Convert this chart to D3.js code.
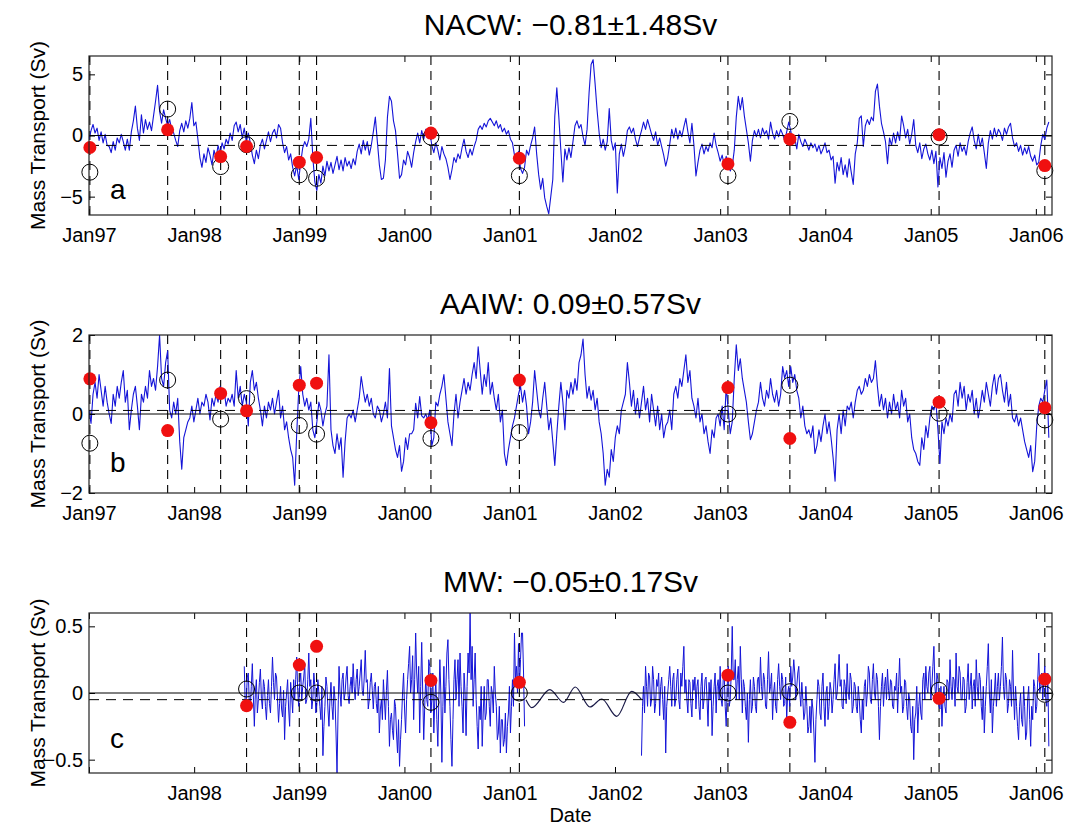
<!DOCTYPE html>
<html>
<head>
<meta charset="utf-8">
<script src="https://cdn.jsdelivr.net/npm/d3@7"></script>
<style>
  body { margin: 0; background: #fff; }
  svg { display: block; }
  text { font-family: "Liberation Sans", Arial, Helvetica, sans-serif; fill: #000; }
</style>
</head>
<body>
<svg id="chart" width="1068" height="826"></svg>
<script>
// ---- data: transports (Sv); time counted from 1 Jan 1997 ----
const seriesStart = "1997-01-01";
const stepDays = 7;      // NACW and AAIW: weekly samples
const mwStepDays = 3.5;  // MW: twice-weekly samples

const nacw = [
  -0.3, 0.4, 0.9, 0.2, 0.6, -0.4, 0.3, -0.6, 0.1, -0.8,
  -0.9, -1.4, -0.5, -1.2, -0.2, -0.6, 0.1, -0.5, -1.2, -0.3,
  -1.2, 0.3, 1.2, 2.4, 0.6, -0.4, 1.7, 0.2, 1.3, 0.5,
  1.1, 0.4, 1.6, 2.8, 4.1, 2.0, 1.0, 2.1, 1.4, 0.8,
  1.3, 0.5, 0.2, -0.4, -0.9, 0.4, 1.0, 0.3, 1.2, 0.6,
  1.4, 2.7, 0.8, 1.1, -0.3, -1.8, -2.6, -1.5, -2.2, -1.0,
  -1.6, -2.4, -1.2, -1.9, -0.8, -1.5, -0.6, -1.1, -0.3, -0.7,
  0.2, -0.4, 0.8, 1.1, 0.3, 0.9, -0.2, 0.6, -0.5, 0.2,
  -0.6, -1.6, -2.3, -1.2, -1.9, -0.8, -0.3, -1.1, -0.4, 0.3,
  -0.5, 0.2, 0.5, -0.2, 0.9, 0.6, -0.6, -1.4, -0.9, -2.0,
  -1.5, -2.6, -3.3, -2.4, -3.6, -2.2, -1.0, -0.5, -0.9, -0.3,
  1.4, -1.8, -3.8, -4.5, -3.2, -3.9, -2.5, -3.3, -2.1, -2.9,
  -2.2, -3.1, -2.4, -1.7, -2.8, -2.0, -2.9, -1.8, -2.5, -2.1,
  -2.7, -1.9, -2.4, -1.3, -0.7, -1.5, -0.4, -1.2, -0.5, -1.6,
  -0.8, 0.3, 1.5, -0.5, -2.4, -3.6, -3.5, -2.0, 1.5, 3.2,
  2.8, 1.2, 0.4, -1.5, -3.5, -3.2, -2.0, -2.4, -1.3, -1.8,
  -2.6, -1.4, -0.5, 0.2, -0.6, 0.4, -0.3, 0.5, -0.2, 0.3,
  -0.8, -1.4, -0.6, -1.2, -2.0, -0.9, -1.5, -1.9, -2.6, -3.6,
  -2.8, -1.8, -2.2, -1.5, -1.9, -1.0, -0.3, -1.3, -1.8, -1.1,
  -1.6, -0.9, -0.4, 0.5, 0.8, 0.5, 1.0, 0.7, 1.2, 1.4,
  1.1, 0.8, 1.2, 0.6, 0.9, 0.3, 0.6, 0.1, 0.4, -0.3,
  -0.6, -1.6, -2.0, -1.3, -2.7, -3.1, -2.6, -1.2, -1.6, -0.8,
  -0.2, 0.7, -1.5, -3.2, -4.4, -3.5, -5.1, -5.8, -6.4, -5.0,
  -3.6, 1.6, 3.9, 1.5, -1.2, -3.8, -1.1, -2.0, -1.0, -1.8,
  -0.5, 0.8, 1.2, 0.6, 0.9, -0.1, -0.8, 0.5, 3.5, 5.8,
  6.2, 4.2, 2.0, 0.2, -1.0, -0.3, -1.2, -0.5, 2.2, -0.4,
  -1.2, -0.6, -4.7, -1.5, -0.7, -1.7, -0.9, 0.4, 0.7, 0.2,
  0.6, -0.3, -0.9, -0.2, 0.4, 1.1, 0.5, 1.3, 0.7, 0.1,
  -0.4, 0.3, -0.8, -0.2, -0.9, -1.6, -2.5, -1.8, -0.7, 0.5,
  -0.2, 0.6, -0.3, 0.4, -0.1, 0.7, 1.4, 0.3, -0.6, 1.0,
  -0.8, -3.3, -2.2, -1.2, -0.7, -1.5, -0.9, -1.3, -0.6, -1.0,
  0.2, -0.8, -1.4, -2.1, -1.6, -2.4, -1.7, -2.3, -2.9, -2.5,
  -1.2, 1.5, 3.2, 2.1, 3.1, 1.6, 0.5, -0.6, -2.1, -0.4,
  0.4, -0.1, 0.5, -0.2, 0.6, 0.1, 0.4, -0.3, 1.1, 0.2,
  -0.3, 0.4, -0.1, 0.5, 0.1, -0.4, 0.3, 1.1, 0.4, -0.6,
  -0.2, -1.1, 0.1, -0.5, -0.9, -0.3, -0.7, -1.2, -0.6, -1.0,
  -0.7, -1.3, -0.8, -1.5, -1.1, -0.6, -1.4, -1.2, -2.0, -1.7,
  -3.9, -2.2, -2.9, -1.8, -3.2, -2.4, -3.4, -1.9, -3.0, -4.0,
  -1.5, -0.6, 1.4, 1.6, -0.9, 0.8, 1.3, 0.9, 1.5, 1.2,
  3.6, 4.2, 2.4, 1.0, 0.3, -0.5, -2.3, -0.2, -0.8, 0.2,
  -0.6, 0.3, -0.4, 1.6, 0.8, -0.2, 0.5, -0.7, 0.1, 1.3,
  -0.8, -1.4, -0.6, -1.9, -1.1, -0.7, -1.5, -2.0, -1.2, -2.3,
  -1.3, -4.2, -1.8, -2.7, -1.4, -3.4, -2.1, -1.5, -2.6, -1.2,
  -0.8, -1.7, -0.6, -1.3, -0.9, -1.6, -0.5, 0.2, 0.7, -0.4,
  -1.1, 0.1, -0.9, -0.2, -1.4, -2.7, -0.6, 0.4, -0.3, 0.6,
  -0.1, 0.5, 0.2, -0.4, 0.6, 0.1, 0.7, 1.0, -0.2, -0.9,
  -0.6, -1.3, -0.8, -1.6, -1.0, -1.5, -0.9, -1.7, -2.1, -1.6,
  -2.4, -2.2, -0.8, 0.1, -0.3, 0.6, 1.1
];

const aaiw = [
  0.1, -0.24, 0.5, 0.8, 0.4, 1.0, 0.6, 0.2, 0.7, 0.3,
  0.0, -0.24, 0.5, 0.2, 0.7, 0.4, 0.8, 1.1, 0.3, 0.6,
  -0.4, 0.1, 0.5, 0.7, 0.2, -0.4, 0.5, 0.3, 0.7, 0.4,
  1.1, 0.7, 0.9, 0.6, 1.2, 2.0, 0.9, 0.7, 1.3, 1.6,
  0.1, -0.1, 0.3, 0.0, 0.4, -0.7, -1.4, -0.6, -0.4, -0.2,
  -0.1, 0.2, -0.2, 0.1, 0.4, 0.0, 0.3, 0.2, 0.5, 0.3,
  -0.15, 0.4, 0.2, 0.5, 0.3, 0.7, 0.4, 0.6, 0.2, 0.4,
  0.3, 0.5, 0.2, 1.1, 0.4, 0.7, 0.2, 0.5, 0.3, -0.3,
  0.8, 1.1, 0.6, 0.8, 0.4, 0.1, -0.3, 0.2, -0.1, 0.3,
  0.1, 0.4, 0.0, 0.3, 0.6, -0.1, 0.2, -0.4, -0.2, -0.6,
  -0.9, -1.1, -1.8, -0.5, 0.6, 1.2, 0.5, 0.2, 0.4, 0.1,
  0.3, -0.4, -0.6, -0.2, 0.3, 0.1, -0.3, 0.0, 0.2, 1.5,
  -0.4, -0.8, -1.0, -0.5, -0.9, -0.6, -1.6, -0.7, -0.1, 0.0,
  -0.1, 0.1, -0.2, 0.1, 0.4, 0.95, 0.6, 0.3, 0.5, 0.2,
  0.4, 0.0, -0.1, 0.2, 0.1, -0.2, 0.0, 0.3, -0.1, 1.15,
  -0.3, -0.6, -0.9, -1.1, -0.8, -1.45, -1.2, -0.6, -0.9, -0.5,
  -0.5, -0.4, 0.27, -0.1, 0.44, -0.05, -0.1, 0.0, -0.15, 0.1,
  -0.8, -0.6, 0.3, 0.2, 0.5, 0.7, 1.0, 0.4, -0.2, -0.5,
  -0.8, 0.0, 0.5, -0.1, 0.3, 0.6, 0.9, 0.5, 0.8, 0.6,
  1.0, 1.3, 0.9, 1.7, 1.1, 0.5, 1.0, 0.7, 1.3, 0.5,
  0.8, 0.4, 0.1, 0.5, -0.2, 0.1, -1.0, -1.3, -0.9, -0.6,
  -0.3, -0.1, 0.2, 0.5, 0.7, 0.3, 0.6, 0.2, -0.5, -0.2,
  0.3, 1.1, 0.6, 0.1, -0.1, 0.4, 0.8, 0.2, -0.4, -0.1,
  -0.7, -1.3, -0.5, 0.2, 0.8, 0.3, -0.4, 0.6, 0.4, 0.8,
  0.5, 0.9, 0.6, 1.3, 1.5, 1.9, 1.0, 0.4, 0.7, 0.35,
  0.6, 0.1, 0.4, -0.2, -0.5, -1.0, -1.8, -1.4, -1.6, -0.9,
  -1.2, -0.6, -0.3, -0.5, 0.1, 0.3, 0.5, 1.3, 0.8, 0.2,
  0.6, 0.0, 0.4, -0.1, 0.3, 0.7, 0.1, 0.4, -0.2, 0.5,
  0.1, -0.3, 0.2, -0.4, 0.0, -0.6, -0.3, -0.2, 0.1, -0.4,
  0.5, 0.7, 0.4, 0.9, 0.7, 1.1, 1.5, 0.8, 1.1, 0.4,
  0.2, -0.1, 0.4, -0.2, 0.0, -0.5, -0.3, -0.7, -1.0, -0.4,
  -0.6, -0.1, 0.0, -0.3, 0.2, -0.4, 0.7, 0.1, -0.5, -0.2,
  0.9, 1.75, 1.1, 1.4, 0.9, 0.6, 0.3, -0.2, -0.65, -0.5,
  -0.2, 0.1, 0.3, 0.8, 0.4, 0.2, 0.6, 0.4, 0.9, 0.5,
  0.3, 0.6, 0.2, 0.5, 1.2, 0.9, 1.1, 0.7, 1.2, 0.8,
  1.0, 0.6, 0.4, -0.1, 0.2, -0.3, -0.5, -0.4, -0.6, -0.3,
  -1.0, -0.8, -0.4, -0.7, -0.3, 0.0, -0.5, -0.2, -0.6, -1.1,
  -1.7, -0.4, 0.0, -0.5, 0.1, -0.3, 0.2, 0.1, 0.3, -0.1,
  0.3, 0.6, 0.7, 0.5, 0.6, 0.9, 0.7, 1.0, 0.8, 0.9,
  1.35, 0.7, 0.2, 0.5, 0.1, 0.4, -0.1, 0.3, 0.0, 0.5,
  0.1, 0.3, -0.1, 0.6, 0.2, 0.4, -0.2, 0.0, -0.6, -0.9,
  -1.0, -1.2, -1.3, -0.6, -0.9, -0.3, -0.6, -0.1, 0.2, 0.1,
  0.3, -0.4, -1.25, -0.2, -0.5, -0.1, -0.3, 0.0, -0.2, 0.5,
  0.6, 0.2, 0.8, 0.4, 0.7, 0.1, 0.5, 0.3, 0.6, 0.0,
  0.4, -0.1, 0.2, 0.6, 0.3, 0.8, 0.5, 0.2, 0.7, 1.0,
  0.5, 0.9, 1.0, 0.6, 0.3, 0.8, 0.2, 0.5, -0.1, -0.2,
  0.0, -0.3, -0.1, -0.4, -0.7, -0.9, -1.1, -0.8, -1.46, -1.2,
  -0.3, 0.2, 0.4, 0.3, 0.6, 0.86, -0.6
];

// MW record: two observed stretches, first sample at the given week after seriesStart
const mwFirstWeek = 77;
const mwFirst = [
  0.2, -0.1, -0.05, 0.12, 0.15, -0.08,
  -0.1, 0.05, 0.22, -0.02, -0.25, 0.0, 0.1, -0.15, -0.05, 0.08, 0.18, -0.04, -0.12, 0.1, 0.05, -0.1, -0.2, -0.02, 0.1, -0.08,
  -0.15, 0.05, 0.27, 0.08, -0.05, 0.15, 0.12, -0.05, -0.22, -0.08, 0.05, -0.12, -0.18, 0.02, -0.35, -0.1, 0.0, 0.1, -0.12, -0.25,
  0.08, -0.02, -0.15, 0.1, -0.05, 0.1, 0.27, 0.02, -0.1, 0.08, 0.15, -0.05, 0.05, 0.12, 0.22, -0.08, -0.05, 0.1, 0.3, 0.05,
  0.1, -0.12, -0.05, 0.15, 0.05, -0.15, -0.08, 0.1, 0.0, -0.1, -0.2, 0.05, -0.47, -0.25, -0.1, 0.12, 0.05, -0.12, -0.25, -0.05,
  0.08, -0.1, -0.2, 0.05, -0.05, -0.3, -0.6, -0.15, 0.2, 0.0, -0.1, 0.1, 0.15, -0.05, 0.0, 0.12, 0.2, -0.02, -0.08, 0.05,
  0.12, 0.0, 0.22, 0.05, -0.05, 0.1, 0.18, -0.02, 0.05, 0.15, 0.25, 0.02, -0.02, 0.12, 0.32, 0.08, 0.1, -0.12, -0.05, 0.08,
  0.15, 0.02, -0.12, 0.05, 0.08, -0.08, -0.15, 0.05, -0.3, -0.12, -0.05, -0.2, 0.1, -0.05, -0.2, 0.02, 0.17, -0.1, -0.4, -0.2,
  -0.15, -0.28, -0.35, -0.05, -0.1, -0.3, -0.45, -0.2, -0.55, -0.35, -0.2, 0.0, 0.15, -0.12, -0.3, -0.05, 0.1, 0.22, 0.35, 0.0,
  0.1, 0.28, -0.2, 0.1, 0.45, 0.15, 0.0, 0.2, -0.3, 0.05, 0.38, 0.0, -0.35, -0.1, 0.12, -0.05, -0.1, 0.25, 0.2, -0.15,
  -0.05, 0.15, -0.3, -0.05, 0.1, -0.2, -0.4, -0.05, 0.25, 0.0, -0.52, -0.1, 0.2, -0.15, 0.05, 0.3, 0.4, 0.1, -0.1, -0.35,
  -0.55, -0.2, 0.1, 0.25, -0.05, 0.1, 0.25, -0.1, 0.3, 0.05, -0.1, -0.3, 0.15, 0.0, -0.32, 0.05, 0.3, 0.15, 0.6, 0.1,
  0.35, -0.1, 0.1, 0.3, -0.05, -0.25, -0.42, -0.1, -0.2, 0.05, -0.4, -0.15, 0.05, -0.2, -0.15, 0.1, 0.1, -0.1, -0.25, 0.05,
  0.0, -0.15, 0.2, 0.0, -0.1, -0.35, -0.3, -0.1, -0.45, -0.2, -0.2, -0.4, -0.35, -0.15, -0.45, -0.25, -0.15, 0.05, -0.3, -0.1,
  0.1, -0.1, 0.45, 0.1, 0.2, 0.0, 0.37, 0.05, 0.25, 0.45, 0.45, 0.15, -0.25
];
const mwSecondWeek = 274;
const mwSecond = [
  -0.47, -0.1, 0.05, -0.15, 0.2, 0.05, -0.1, 0.15, 0.12, -0.1, -0.05, 0.2,
  0.1, -0.15, -0.08, 0.1, 0.05, 0.15, -0.17, 0.05, 0.12, -0.05, -0.2, 0.05, -0.45, -0.1, 0.0, 0.1, 0.2, 0.05, -0.1, 0.1,
  0.15, -0.1, -0.05, 0.1, 0.18, -0.05, -0.12, 0.15, 0.05, 0.2, 0.35, 0.0, 0.1, -0.05, -0.15, 0.1, 0.08, -0.08, -0.18, 0.1,
  0.02, 0.12, -0.12, 0.05, 0.1, -0.1, -0.2, 0.05, 0.15, -0.12, -0.05, 0.1, 0.12, -0.05, -0.25, 0.08, -0.05, 0.1, -0.32, -0.1,
  0.05, 0.15, -0.15, 0.05, 0.1, -0.05, 0.2, -0.05, -0.1, 0.1, 0.15, -0.1, -0.25, 0.05, 0.2, -0.1, -0.05, 0.15, 0.5, 0.1,
  0.1, 0.25, -0.05, 0.1, 0.2, -0.05, 0.35, 0.1, -0.15, 0.1, 0.05, -0.1, -0.2, 0.0, -0.37, -0.05, 0.1, -0.15, -0.1, 0.12,
  0.05, -0.1, -0.15, 0.1, 0.12, 0.0, 0.27, 0.05, -0.05, 0.15, 0.1, -0.1, -0.12, 0.1, 0.31, 0.0, 0.05, 0.15, -0.2, 0.0,
  0.08, -0.1, -0.15, 0.1, 0.22, 0.05, -0.05, 0.15, 0.1, -0.1, -0.08, 0.12, -0.2, 0.0, 0.05, -0.1, 0.2, 0.05, 0.12, 0.25,
  0.15, -0.05, 0.05, 0.15, 0.2, 0.0, -0.1, 0.08, -0.05, -0.2, -0.15, 0.05, -0.1, -0.3, -0.25, -0.1, -0.3, -0.05, -0.12, -0.3,
  -0.52, -0.2, -0.05, 0.1, 0.05, -0.15, -0.2, 0.05, 0.15, -0.1, -0.25, 0.0, 0.05, -0.2, -0.1, 0.08, 0.02, -0.15, -0.05, 0.1,
  0.22, -0.05, 0.0, 0.12, 0.29, 0.05, 0.1, -0.1, -0.12, 0.1, 0.05, -0.08, 0.22, 0.0, -0.05, 0.15, 0.1, -0.15, -0.1, 0.08,
  0.05, -0.1, -0.15, 0.05, -0.05, -0.2, -0.3, -0.05, -0.2, 0.05, 0.1, -0.1, 0.0, 0.2, 0.15, -0.05, -0.08, 0.1, 0.22, 0.0,
  -0.05, 0.15, 0.1, -0.1, -0.35, -0.1, 0.05, 0.15, -0.1, 0.05, 0.12, -0.05, 0.18, 0.02, -0.05, 0.1, 0.08, -0.1, -0.12, 0.05,
  0.02, 0.15, -0.15, 0.05, 0.26, 0.0, 0.05, -0.15, -0.1, 0.1, 0.08, -0.1, -0.2, 0.0, -0.05, -0.25, -0.3, -0.1, -0.5, -0.2,
  -0.15, 0.05, -0.3, -0.1, 0.0, -0.15, -0.2, 0.1, 0.15, -0.05, 0.2, 0.05, 0.0, 0.15, 0.2, -0.05, 0.05, 0.2, 0.35, 0.05,
  -0.05, 0.15, 0.1, -0.1, -0.12, 0.05, -0.25, -0.05, 0.05, -0.1, -0.15, 0.1, 0.08, -0.05, 0.25, 0.05, -0.05, 0.12, 0.1, -0.1,
  0.3, 0.05, 0.0, 0.2, 0.15, -0.05, -0.05, 0.12, 0.1, -0.15, -0.1, 0.08, 0.22, -0.05, 0.05, 0.15, -0.12, 0.05, 0.1, -0.1,
  0.25, 0.05, -0.05, 0.15, 0.1, -0.1, -0.2, 0.05, -0.3, -0.1, 0.05, 0.2, 0.37, 0.0, -0.15, 0.1, -0.3, -0.1, 0.0, 0.15,
  -0.1, 0.05, 0.15, -0.05, 0.05, 0.2, 0.42, 0.05, -0.05, 0.15, 0.1, -0.15, -0.08, 0.1, 0.05, -0.1, 0.32, 0.0, -0.2, 0.05,
  -0.1, -0.25, -0.35, -0.1, 0.0, -0.2, -0.25, 0.05, -0.1, -0.35, -0.3, -0.05, 0.05, -0.2, -0.4, -0.1, -0.2, 0.1, 0.05, -0.15,
  -0.1, 0.1, 0.3, 0.0, 0.05, 0.15, -0.05, 0.1, 0.2, -0.05, -0.1, 0.15, -0.4
];
// gap-filled MW stretch (smooth estimate)
const mwGapDates = ["2001-02-26", "2001-03-18", "2001-05-20", "2001-07-06", "2001-08-16",
                    "2001-10-06", "2001-11-16", "2002-01-07", "2002-02-28", "2002-04-03"];
const mwGapValues = [-0.05, -0.11, 0.025, -0.07, 0.045, -0.105, -0.045, -0.175, 0.012, -0.05];

// cruise dates and the section estimates at each cruise
const cruiseDates = ["1997-01-04", "1997-10-01", "1998-04-03", "1998-07-02", "1999-01-01", "1999-03-02",
                     "2000-04-02", "2001-02-03", "2003-01-28", "2003-08-31", "2005-01-30", "2006-02-01"];
const nacwDots  = [-0.98, 0.47, -1.72, -0.9, -2.18, -1.8, 0.2, -1.86, -2.32, -0.3, 0.06, -2.46];
const nacwRings = [-3.0, 2.16, -2.54, -0.75, -3.22, -3.5, -0.13, -3.28, -3.28, 1.15, -0.13, -2.87];
const aaiwDots  = [0.89, -0.42, 0.52, 0.08, 0.73, 0.78, -0.22, 0.86, 0.67, -0.62, 0.3, 0.16];
const aaiwRings = [-0.74, 0.86, -0.13, 0.39, -0.29, -0.51, -0.62, -0.47, 0.0, 0.73, 0.02, -0.15];
const mwDots    = [null, null, null, -0.095, 0.21, 0.35, 0.094, 0.08, 0.134, -0.22, -0.04, 0.104];
const mwRings   = [null, null, null, 0.03, 0.0, 0.0, -0.07, 0.0, 0.0, 0.01, 0.02, -0.01];

const titles = ["NACW: \u22120.81\u00b11.48Sv", "AAIW: 0.09\u00b10.57Sv", "MW: \u22120.05\u00b10.17Sv"];
const means = [-0.81, 0.09, -0.05];
const panelLetters = ["a", "b", "c"];
const yTickValues = [[-5, 0, 5], [-2, 0, 2], [-0.5, 0, 0.5]];
const yTickLabels = [["\u22125", "0", "5"], ["\u22122", "0", "2"], ["\u22120.5", "0", "0.5"]];
const yDomains = [[-6.5, 6.5], [-2, 2], [-0.6, 0.6]];
const xDomain = ["1997-01-01", "2006-02-26"];
const yLabel = "Mass Transport (Sv)";
const xLabel = "Date";

// ---- layout ----
const parse = d3.utcParse("%Y-%m-%d");
const t0 = parse(seriesStart);
const toPoints = (vals, firstWeek, step) =>
  vals.map((v, k) => ({ date: d3.utcHour.offset(t0, Math.round(24 * (7 * firstWeek + step * k))), v }));

const svg = d3.select("#chart");
const plotLeft = 89, plotRight = 1052;
const boxes = [
  { top: 56, bottom: 215, titleY: 35, letterY: 199 },
  { top: 335, bottom: 493, titleY: 314, letterY: 472 },
  { top: 613, bottom: 773, titleY: 592, letterY: 748 }
];

const x = d3.scaleUtc().domain(xDomain.map(parse)).range([plotLeft, plotRight]);
const cruises = cruiseDates.map(parse);
const fmt = d3.utcFormat("%b%y");
const yearTicks = d3.utcYear.range(parse("1997-01-01"), parse("2006-02-01"));

const panels = [
  { series: [toPoints(nacw, 0, stepDays)], dots: nacwDots, rings: nacwRings, gap: null, width: 1.1 },
  { series: [toPoints(aaiw, 0, stepDays)], dots: aaiwDots, rings: aaiwRings, gap: null, width: 1.1 },
  { series: [toPoints(mwFirst, mwFirstWeek, mwStepDays), toPoints(mwSecond, mwSecondWeek, mwStepDays)],
    dots: mwDots, rings: mwRings, width: 1,
    gap: mwGapDates.map((d, k) => ({ date: parse(d), v: mwGapValues[k] })) }
];

panels.forEach((p, pi) => {
  const b = boxes[pi];
  const y = d3.scaleLinear().domain(yDomains[pi]).range([b.bottom, b.top]);
  const g = svg.append("g");

  const clipId = "clip" + pi;
  svg.append("clipPath").attr("id", clipId).append("rect")
    .attr("x", plotLeft).attr("y", b.top)
    .attr("width", plotRight - plotLeft).attr("height", b.bottom - b.top);

  const plot = g.append("g").attr("clip-path", `url(#${clipId})`);

  // cruise markers (vertical dashed lines) where this layer was sampled
  const active = cruises.map((d, k) => ({ d, k })).filter(o => p.dots[o.k] !== null);
  plot.selectAll("line.cruise").data(active).join("line")
    .attr("x1", o => x(o.d)).attr("x2", o => x(o.d))
    .attr("y1", b.top).attr("y2", b.bottom)
    .attr("stroke", "#000").attr("stroke-width", 1.1)
    .attr("stroke-dasharray", "9,6");

  // transport time series
  const line = d3.line().x(d => x(d.date)).y(d => y(d.v));
  p.series.forEach(s => {
    plot.append("path").datum(s).attr("d", line)
      .attr("fill", "none").attr("stroke", "#1414d8").attr("stroke-width", p.width)
      .attr("stroke-linejoin", "round");
  });
  if (p.gap) {
    plot.append("path").datum(p.gap)
      .attr("d", d3.line().x(d => x(d.date)).y(d => y(d.v)).curve(d3.curveMonotoneX))
      .attr("fill", "none").attr("stroke", "#1a1a48").attr("stroke-width", 1.2);
  }

  // zero line and record mean
  plot.append("line").attr("x1", plotLeft).attr("x2", plotRight)
    .attr("y1", y(0)).attr("y2", y(0)).attr("stroke", "#000").attr("stroke-width", 1);
  plot.append("line").attr("x1", plotLeft).attr("x2", plotRight)
    .attr("y1", y(means[pi])).attr("y2", y(means[pi]))
    .attr("stroke", "#000").attr("stroke-width", 1).attr("stroke-dasharray", "10,7");

  // section estimates: open rings, then filled red dots
  const ringData = active.map(o => ({ d: o.d, v: p.rings[o.k] }));
  const dotData = active.map(o => ({ d: o.d, v: p.dots[o.k] }));
  g.selectAll("circle.ring").data(ringData).join("circle")
    .attr("cx", o => x(o.d)).attr("cy", o => y(o.v)).attr("r", 8)
    .attr("fill", "none").attr("stroke", "#000").attr("stroke-width", 1);
  g.selectAll("circle.dot").data(dotData).join("circle")
    .attr("cx", o => x(o.d)).attr("cy", o => y(o.v)).attr("r", 6.5)
    .attr("fill", "#f01010").attr("stroke", "none");

  // axes (inward ticks on all four sides)
  const labels = yTickLabels[pi];
  const yl = d3.axisLeft(y).tickValues(yTickValues[pi]).tickSize(-6).tickPadding(6)
    .tickFormat((d, k) => labels[k]);
  const yr = d3.axisRight(y).tickValues(yTickValues[pi]).tickSize(-6).tickFormat("");
  const xb = d3.axisBottom(x).tickValues(yearTicks).tickSize(-6).tickPadding(13)
    .tickFormat(d => (pi === 2 && d.getUTCFullYear() === 1997) ? "" : fmt(d));
  const xt = d3.axisTop(x).tickValues(yearTicks).tickSize(-6).tickFormat("");

  const styleAxis = sel => {
    sel.select(".domain").remove();
    sel.selectAll(".tick line").attr("stroke", "#000");
    sel.selectAll("text").attr("font-size", 20).attr("fill", "#000")
      .attr("font-family", '"Liberation Sans", Arial, sans-serif');
  };
  g.append("g").attr("transform", `translate(${plotLeft},0)`).call(yl).call(styleAxis);
  g.append("g").attr("transform", `translate(${plotRight},0)`).call(yr).call(styleAxis);
  g.append("g").attr("transform", `translate(0,${b.bottom})`).call(xb).call(styleAxis);
  g.append("g").attr("transform", `translate(0,${b.top})`).call(xt).call(styleAxis);

  g.append("rect").attr("x", plotLeft).attr("y", b.top)
    .attr("width", plotRight - plotLeft).attr("height", b.bottom - b.top)
    .attr("fill", "none").attr("stroke", "#222").attr("stroke-width", 1.2);

  // title, panel letter, y label
  g.append("text").attr("x", (plotLeft + plotRight) / 2).attr("y", b.titleY)
    .attr("text-anchor", "middle").attr("font-size", 30).text(titles[pi]);
  g.append("text").attr("x", 110).attr("y", b.letterY)
    .attr("font-size", 28).text(panelLetters[pi]);
  g.append("text")
    .attr("transform", `translate(45,${(b.top + b.bottom) / 2}) rotate(-90)`)
    .attr("text-anchor", "middle").attr("font-size", 21).text(yLabel);
});

svg.append("text").attr("x", (plotLeft + plotRight) / 2).attr("y", 822)
  .attr("text-anchor", "middle").attr("font-size", 20).text(xLabel);
</script>
</body>
</html>
